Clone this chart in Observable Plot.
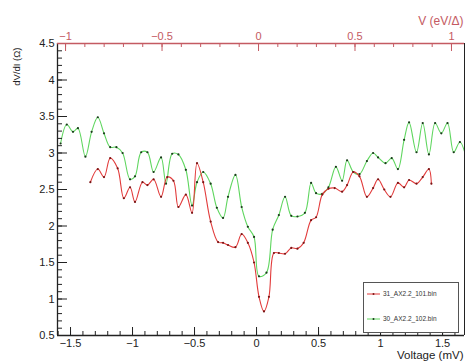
<!DOCTYPE html>
<html><head><meta charset="utf-8">
<script src="https://cdn.jsdelivr.net/npm/d3@7"></script>
<script src="https://cdn.jsdelivr.net/npm/@observablehq/plot@0.6"></script>
<style>body{margin:0;background:#fff;} #chart{position:relative;width:465px;height:362px;}</style>
</head><body><div id="chart"></div>
<script>
// Series: voltage (mV) and dV/dI (Ω)
const greenV  = [-1.58,-1.53,-1.48,-1.44,-1.38,-1.33,-1.28,-1.23,-1.18,-1.13,-1.08,-1.02,-0.98,-0.93,-0.88,-0.83,-0.77,-0.73,-0.68,-0.63,-0.57,-0.52,-0.48,-0.43,-0.37,-0.32,-0.27,-0.23,-0.17,-0.12,-0.07,-0.02,0.02,0.08,0.13,0.18,0.23,0.28,0.33,0.39,0.44,0.48,0.53,0.58,0.64,0.69,0.73,0.78,0.83,0.89,0.94,0.98,1.04,1.09,1.14,1.19,1.23,1.29,1.34,1.39,1.44,1.49,1.54,1.59,1.64,1.69];
const greenDV = [3.13,3.39,3.29,3.34,2.95,3.29,3.49,3.27,3.08,3.08,3.00,2.64,2.68,3.01,3.01,2.74,2.94,2.58,2.99,2.98,2.77,2.28,2.60,2.74,2.58,2.25,2.11,2.40,2.70,2.26,1.99,1.85,1.31,1.36,1.95,2.15,2.40,2.14,2.13,2.18,2.59,2.45,2.44,2.53,2.81,2.62,2.90,2.74,2.71,2.89,3.00,2.94,2.86,2.93,2.78,3.18,3.42,3.01,3.41,2.98,3.41,3.27,3.41,3.01,3.15,2.94];
const redV  = [-1.34,-1.28,-1.23,-1.18,-1.12,-1.07,-1.02,-0.98,-0.92,-0.88,-0.83,-0.77,-0.72,-0.67,-0.63,-0.57,-0.52,-0.48,-0.43,-0.37,-0.31,-0.27,-0.23,-0.17,-0.12,-0.07,-0.02,0.02,0.06,0.10,0.14,0.18,0.23,0.28,0.33,0.38,0.44,0.48,0.53,0.58,0.63,0.69,0.73,0.78,0.83,0.89,0.94,0.98,1.03,1.08,1.14,1.19,1.23,1.29,1.34,1.39,1.41];
const redDV = [2.60,2.78,2.67,2.93,2.79,2.38,2.53,2.33,2.60,2.56,2.64,2.40,2.67,2.62,2.26,2.43,2.18,2.86,2.60,2.06,1.78,1.77,1.74,1.71,1.89,1.77,1.50,1.03,0.83,1.03,1.63,1.63,1.62,1.70,1.69,1.77,2.08,2.12,2.43,2.51,2.52,2.47,2.56,2.74,2.68,2.40,2.52,2.64,2.50,2.40,2.59,2.53,2.63,2.58,2.67,2.78,2.58];
const seriesNames = ["31_AX2.2_101.bin", "30_AX2.2_102.bin"];

// Axes
const xDomain = [-1.605, 1.677];
const yDomain = [0.5, 4.5];
const xMajorTicks = [-1.5, -1, -0.5, 0, 0.5, 1, 1.5];
const yMajorTicks = [0.5, 1, 1.5, 2, 2.5, 3, 3.5, 4, 4.5];
const topMajorTicks = [-1, -0.5, 0, 0.5, 1];
const topTickLabels = ["\u22121", "\u22120.5", "0", "0.5", "1"];
const xMinorTicks = d3.range(-16, 17).map(i => i / 10);
const yMinorTicks = d3.range(5, 46).map(i => i / 10);
const topMinorTicks = d3.range(-10, 11).map(i => i / 10);
const gapMV = 1.556, zeroShift = 0.016; // top axis: V(eV/Δ) -> mV
const xTitle = "Voltage (mV)", yTitle = "dV/dI (\u03a9)", topTitle = "V (eV/\u0394)";

const fmt = d => (d < 0 ? "\u2212" : "") + String(Math.abs(d));
const toMV = v => zeroShift + gapMV * v;
const green = greenV.map((v, i) => ({v, dv: greenDV[i]}));
const red = redV.map((v, i) => ({v, dv: redDV[i]}));

const W = 465, H = 362, mL = 57, mR = 1, mT = 43, mB = 27;
const pw = W - mL - mR, ph = H - mT - mB;
const RED = "#e23b3b", GREEN = "#5fd65f", AXRED = "#c45a62", INK = "#222";

const chart = Plot.plot({
  width: W, height: H,
  marginLeft: mL, marginRight: mR, marginTop: mT, marginBottom: mB,
  style: {fontFamily: "'Liberation Sans', Arial, sans-serif", fontSize: "11px", color: "#222", background: "#fff"},
  x: {domain: xDomain, ticks: xMajorTicks, tickSize: 0, tickPadding: 4, tickFormat: fmt, label: null},
  y: {domain: yDomain, ticks: yMajorTicks, tickSize: 0, tickPadding: 3, tickFormat: fmt, label: null},
  marks: [
    Plot.line(green, {x: "v", y: "dv", stroke: GREEN, strokeWidth: 1.1, curve: "catmull-rom", clip: true}),
    Plot.dot(green, {x: "v", y: "dv", r: 1.1, fill: "#1a3a1a", clip: true}),
    Plot.line(red, {x: "v", y: "dv", stroke: RED, strokeWidth: 1.1, curve: "catmull-rom", clip: true}),
    Plot.dot(red, {x: "v", y: "dv", r: 1.1, fill: "#7a1515", clip: true}),
    // bottom axis ticks (inward)
    Plot.tickX(xMinorTicks, {x: d => d, stroke: INK, insetTop: ph - 4}),
    Plot.tickX(xMajorTicks, {x: d => d, stroke: INK, insetTop: ph - 8}),
    // left axis ticks (inward)
    Plot.tickY(yMinorTicks, {y: d => d, stroke: INK, insetRight: pw - 5}),
    Plot.tickY(yMajorTicks, {y: d => d, stroke: INK, insetRight: pw - 10}),
    // top axis ticks
    Plot.tickX(topMinorTicks, {x: toMV, stroke: AXRED, insetBottom: ph - 4}),
    Plot.tickX(topMajorTicks, {x: toMV, stroke: AXRED, insetBottom: ph - 8}),
    Plot.text(topMajorTicks, {x: toMV, frameAnchor: "top", text: (d, i) => topTickLabels[i], fill: AXRED, lineAnchor: "bottom", dy: -4, fontSize: 11}),
    // frame
    Plot.ruleX([xDomain[0]], {stroke: INK, strokeWidth: 1.3}),
    Plot.ruleX([xDomain[1]], {stroke: INK, strokeWidth: 1}),
    Plot.ruleY([yDomain[0]], {stroke: INK, strokeWidth: 1.3}),
    Plot.ruleY([yDomain[1]], {stroke: AXRED, strokeWidth: 1.3}),
    // titles
    Plot.text([xTitle], {frameAnchor: "bottom-right", text: d => d, textAnchor: "end", lineAnchor: "middle", dy: 20, dx: -1, fontSize: 11.5}),
    Plot.text([topTitle], {frameAnchor: "top-right", text: d => d, textAnchor: "end", dy: -27, dx: -1, fontSize: 12, fill: AXRED}),
    Plot.text([yTitle], {frameAnchor: "top-left", text: d => d, rotate: -90, textAnchor: "end", dx: -44, dy: 4, fontSize: 9.5})
  ]
});

// legend box inside the frame (bottom-right)
const svg = d3.select(chart);
const lg = svg.append("g").attr("font-family", "'Liberation Sans', Arial, sans-serif").attr("text-anchor", "start");
lg.append("rect").attr("x", 363.5).attr("y", 282.5).attr("width", 95).attr("height", 50)
  .attr("fill", "#fff").attr("stroke", "#555").attr("stroke-width", 1);
const entries = [{name: seriesNames[0], color: RED, mk: "#7a1515", y: 294}, {name: seriesNames[1], color: GREEN, mk: "#1a3a1a", y: 319}];
entries.forEach(e => {
  lg.append("line").attr("x1", 367).attr("x2", 380).attr("y1", e.y).attr("y2", e.y).attr("stroke", e.color).attr("stroke-width", 1);
  lg.append("circle").attr("cx", 373.5).attr("cy", e.y).attr("r", 1).attr("fill", e.mk);
  lg.append("text").attr("x", 383).attr("y", e.y).attr("dy", "0.35em").attr("text-anchor", "start").attr("font-size", 6.5).attr("fill", "#333").text(e.name);
});

document.getElementById("chart").appendChild(chart);
</script>
</body></html>
